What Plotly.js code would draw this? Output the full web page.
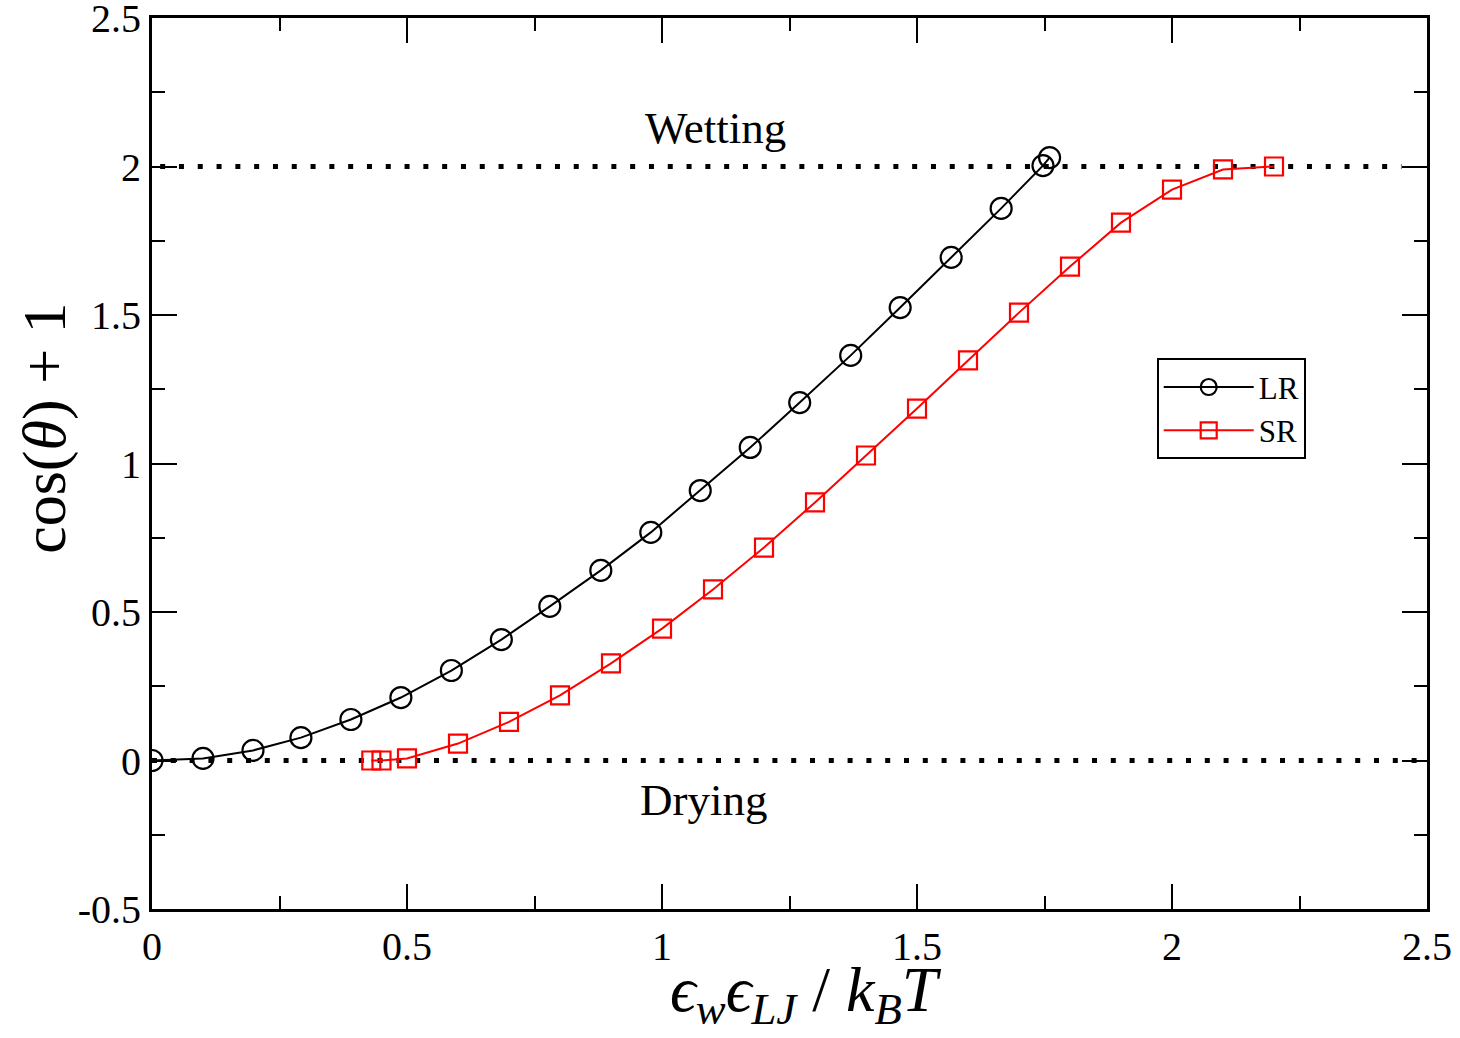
<!DOCTYPE html>
<html>
<head>
<meta charset="utf-8">
<script src="https://cdn.plot.ly/plotly-3.0.1.min.js"></script>
<style>html,body{margin:0;padding:0;background:#fff;}#chart{width:1460px;height:1038px;}</style>
</head>
<body>
<div id="chart"></div>
<script>
// LR series
const lrX = [0, 0.1, 0.198, 0.292, 0.39, 0.488, 0.587, 0.685, 0.78, 0.88, 0.978, 1.075, 1.173, 1.27, 1.37, 1.467, 1.567, 1.665, 1.747, 1.76];
const lrY = [0, 0.007, 0.034, 0.077, 0.138, 0.212, 0.303, 0.407, 0.519, 0.64, 0.768, 0.909, 1.054, 1.205, 1.364, 1.525, 1.694, 1.859, 2.003, 2.03];
// SR series
const srX = [0.43, 0.45, 0.5, 0.6, 0.7, 0.8, 0.9, 1.0, 1.1, 1.2, 1.3, 1.4, 1.5, 1.6, 1.7, 1.8, 1.9, 2.0, 2.1, 2.2];
const srY = [0, 0, 0.007, 0.057, 0.13, 0.219, 0.327, 0.444, 0.576, 0.717, 0.869, 1.027, 1.185, 1.347, 1.508, 1.663, 1.811, 1.922, 1.99, 2.0];
// Tick values / labels
const xTickVals = [0, 0.5, 1, 1.5, 2, 2.5];
const xTickText = ['0', '0.5', '1', '1.5', '2', '2.5'];
const yTickVals = [-0.5, 0, 0.5, 1, 1.5, 2, 2.5];
const yTickText = ['-0.5', '0', '0.5', '1', '1.5', '2', '2.5'];
// Reference dotted levels
const refLevels = [0, 2];
const refStart = [0, 0.016];
const refEnd = [2.48, 2.45];
// Region labels
const labelText = ['Wetting', 'Drying'];
const labelX = [1.104, 1.082];
const labelY = [2.13, -0.133];

const serif = 'Liberation Serif, Times New Roman, serif';

const traces = [
  {x: lrX, y: lrY, name: 'LR', type: 'scatter', mode: 'lines+markers',
   line: {color: 'black', width: 2},
   marker: {symbol: 'circle-open', size: 21, color: 'black', line: {width: 2.2, color: 'black'}}},
  {x: srX, y: srY, name: 'SR', type: 'scatter', mode: 'lines+markers',
   line: {color: 'red', width: 2},
   marker: {symbol: 'square-open', size: 18, color: 'red', line: {width: 2.2, color: 'red'}}}
];

const shapes = refLevels.map((lv, i) => ({
  type: 'line', xref: 'x', yref: 'y', x0: refStart[i], x1: refEnd[i], y0: lv, y1: lv,
  line: {color: 'black', width: 5, dash: '5px,13.8px'}, layer: 'below'
}));

const annotations = labelText.map((t, i) => ({
  text: t, x: labelX[i], y: labelY[i], xref: 'x', yref: 'y', showarrow: false,
  font: {family: serif, size: 45, color: 'black'}
}));
// axis titles as annotations for precise placement
annotations.push({
  text: 'cos(<i>θ</i>) + 1', xref: 'paper', yref: 'paper', x: -0.0839, y: 0.539,
  textangle: -90, showarrow: false, xanchor: 'center', yanchor: 'middle',
  font: {family: serif, size: 62, color: 'black'}
});
annotations.push({
  text: '<i>ϵ</i><sub><i>w</i></sub><i>ϵ</i><sub><i>LJ</i></sub> / <i>k</i><sub><i>B</i></sub><i>T</i>',
  xref: 'paper', yref: 'paper', x: 0.513, y: -0.095,
  showarrow: false, xanchor: 'center', yanchor: 'middle',
  font: {family: serif, size: 64, color: 'black'}
});

const axisCommon = {
  showgrid: false, zeroline: false, showline: true, linecolor: 'black', linewidth: 3,
  mirror: 'allticks', ticks: 'inside', ticklen: 25, tickwidth: 2, tickcolor: 'black',
  tickmode: 'array', ticklabeloverflow: 'allow',
  tickfont: {family: serif, size: 40, color: 'black'},
  minor: {ticks: 'inside', ticklen: 13, tickwidth: 2, tickcolor: 'black', tickmode: 'linear', tick0: 0, dtick: 0.25, showgrid: false}
};

const layout = {
  width: 1460, height: 1038,
  margin: {l: 152, r: 33, t: 18, b: 129},
  paper_bgcolor: 'white', plot_bgcolor: 'white',
  showlegend: true,
  legend: {x: 0.788, y: 0.618, xanchor: 'left', yanchor: 'top',
           bordercolor: 'black', borderwidth: 2, bgcolor: 'white',
           font: {family: serif, size: 31, color: 'black'}, tracegroupgap: 0, itemwidth: 90},
  xaxis: Object.assign({}, axisCommon, {
    range: [0, 2.5], tickvals: xTickVals, ticktext: xTickText
  }),
  yaxis: Object.assign({}, axisCommon, {
    range: [-0.5, 2.5], tickvals: yTickVals, ticktext: yTickText
  }),
  shapes: shapes,
  annotations: annotations
};

Plotly.newPlot('chart', traces, layout, {displayModeBar: false});
</script>
</body>
</html>
